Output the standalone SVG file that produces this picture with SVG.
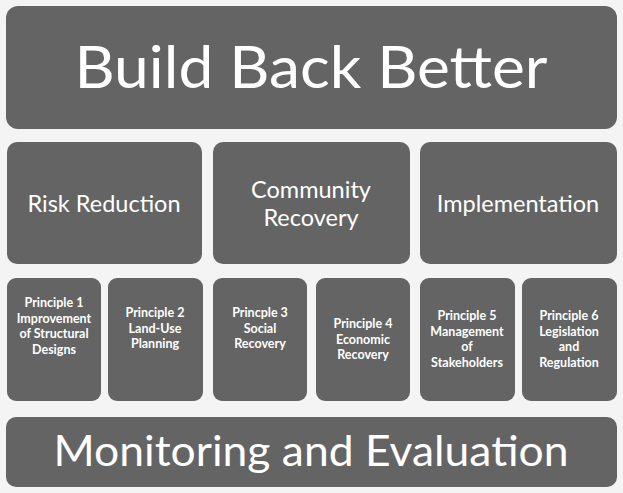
<svg xmlns="http://www.w3.org/2000/svg" width="623" height="493" viewBox="0 0 623 493">
<style>
.b{fill:#646464}
.t{fill:#fff;font-family:Lato,"Open Sans",sans-serif;text-anchor:middle}
.s{font-size:12.5px;font-weight:bold}
.m{font-size:23.5px}
</style>
<rect width="623" height="493" fill="#f4f4f4"/>
<g id="top"><rect class="b" x="6" y="6" width="611" height="123" rx="12"/><text class="t" x="311" y="88" font-size="58" textLength="473" lengthAdjust="spacingAndGlyphs">Build Back Better</text></g>
<g id="risk"><rect class="b" x="7" y="142" width="195" height="122" rx="10"/><text class="t m" x="104" y="212">Risk Reduction</text></g>
<g id="community"><rect class="b" x="213" y="142" width="197" height="122" rx="10"/><text class="t m" x="311" y="198">Community</text><text class="t m" x="311" y="226">Recovery</text></g>
<g id="impl"><rect class="b" x="420" y="142" width="197" height="122" rx="10"/><text class="t m" x="518" y="212">Implementation</text></g>
<g id="p1"><rect class="b" x="7" y="278" width="94" height="123" rx="9"/><text class="t s" x="54" y="307">Principle 1<tspan x="54" dy="15.5">Improvement</tspan><tspan x="54" dy="15.5">of Structural</tspan><tspan x="54" dy="15.5">Designs</tspan></text></g>
<g id="p2"><rect class="b" x="108" y="278" width="95" height="123" rx="9"/><text class="t s" x="155" y="317">Principle 2<tspan x="155" dy="15.5">Land-Use</tspan><tspan x="155" dy="15.5">Planning</tspan></text></g>
<g id="p3"><rect class="b" x="213" y="278" width="94" height="123" rx="9"/><text class="t s" x="260" y="317">Princple 3<tspan x="260" dy="15.5">Social</tspan><tspan x="260" dy="15.5">Recovery</tspan></text></g>
<g id="p4"><rect class="b" x="316" y="278" width="94" height="123" rx="9"/><text class="t s" x="363" y="328">Principle 4<tspan x="363" dy="15.5">Economic</tspan><tspan x="363" dy="15.5">Recovery</tspan></text></g>
<g id="p5"><rect class="b" x="420" y="278" width="95" height="123" rx="9"/><text class="t s" x="467" y="320">Principle 5<tspan x="467" dy="15.5">Management</tspan><tspan x="467" dy="15.5">of</tspan><tspan x="467" dy="15.5">Stakeholders</tspan></text></g>
<g id="p6"><rect class="b" x="522" y="278" width="95" height="123" rx="9"/><text class="t s" x="569" y="320">Principle 6<tspan x="569" dy="15.5">Legislation</tspan><tspan x="569" dy="15.5">and</tspan><tspan x="569" dy="15.5">Regulation</tspan></text></g>
<g id="bottom"><rect class="b" x="6" y="417" width="611" height="70" rx="10"/><text class="t" x="311" y="466" font-size="42" textLength="515" lengthAdjust="spacingAndGlyphs">Monitoring and Evaluation</text></g>
<g id="connectors"/>
</svg>
